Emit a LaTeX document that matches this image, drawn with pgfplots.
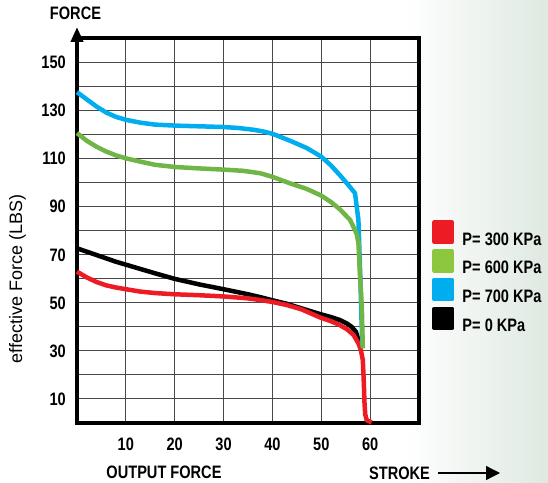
\documentclass[border=0pt]{standalone}
\usepackage{fontspec}
\setmainfont{Liberation Sans}
\newfontfamily\cond{Liberation Sans}[FakeStretch=0.81]
\usepackage{pgfplots}
\pgfplotsset{compat=1.18}
\usetikzlibrary{arrows.meta}
\newcommand\lab{\cond\bfseries\fontsize{18bp}{18bp}\selectfont}
\definecolor{cred}{RGB}{237,28,36}
\definecolor{cgreen}{RGB}{112,182,70}
\definecolor{cgreenL}{RGB}{141,198,63}
\definecolor{cblue}{RGB}{0,174,239}
\definecolor{bgc}{RGB}{222,233,225}
\tikzset{mylab/.style={font=\lab, inner sep=0pt, text height=12.9bp, text depth=0pt}}
\begin{document}
\begin{tikzpicture}
\useasboundingbox (0,0) rectangle (548bp,483bp);
\shade[left color=white, right color=bgc] (405bp,0bp) rectangle (548bp,483bp);
\begin{axis}[
  at={(77bp,60bp)}, anchor=south west, scale only axis,
  width=342bp, height=385bp,
  xmin=0, xmax=70, ymin=0, ymax=160,
  xtick={10,20,...,60}, ytick={10,30,...,150},
  minor ytick={20,40,...,140},
  grid=both,
  major grid style={line width=1.1bp, black!72},
  minor grid style={line width=1.1bp, black!72},
  major tick length=0pt, minor tick length=0pt,
  axis line style={line width=4bp},
  tick label style={font=\lab, /pgf/number format/assume math mode=true, inner sep=0pt, text height=12.9bp, text depth=0pt},
  xticklabel style={anchor=north, yshift=-14bp},
  yticklabel style={anchor=east, xshift=-11bp},
  clip=false,
  legend style={at={(rel axis cs:1.038,0.526)}, anchor=north west, draw=none, fill=none,
    inner sep=0pt, outer sep=0pt, row sep=4bp, column sep=0pt,
    nodes={inner sep=0pt, text height=12.9bp, text depth=0pt, font=\lab}},
  legend cell align=left,
  legend image code/.code={\fill[#1] (0bp,-3bp) rectangle (18bp,16bp); \path (26bp,0bp);},
  every axis plot/.append style={line width=4.5bp, line join=round, line cap=butt},
]
% P = 0 KPa
\addplot[black, forget plot] coordinates {
(0,72.6) (2,71.2) (4,69.8) (6,68.4) (8,67) (10,65.8) (13,64) (16,62.2) (20,59.9) (25,57.6)
(30,55.6) (35,53.5) (37.5,52.3) (40,51) (43,49.5) (46,47.6) (49.7,45.3) (52,44) (53.8,42.8)
(55.2,41.4) (56.2,40) (57.1,37.9) (57.6,34.5) (58,32)};
% P = 300 KPa
\addplot[cred, forget plot] coordinates {
(0,62.9) (2,60.5) (4,58.6) (6,57.2) (8,56.3) (10,55.6) (13,54.6) (16,54) (20,53.5) (25,53.1)
(30,52.6) (35,51.8) (37.5,51.1) (40,50.3) (43,49) (46,47.2) (49.7,43.9) (52,42.3) (53.8,40.7)
(55.3,38.9) (56.6,36.6) (57.6,33.1) (58.1,30.3) (58.5,26.2) (58.7,17) (58.85,8) (59,3.5) (59.3,1.2) (60.3,0.2)};
% P = 700 KPa
\addplot[cblue, forget plot] coordinates {
(0,137.5) (2,134.5) (4,131.5) (6,129) (8,127.2) (10,126) (13,124.8) (16,124) (20,123.6) (25,123.3)
(30,123) (33,122.6) (36,121.9) (38,121.2) (40,120.2) (42,118.6) (43.6,117.3) (47,114.3) (50,110.7)
(52,107) (53.8,103) (55.5,99) (56.9,95.5) (57.6,84.4) (57.8,72) (58,60) (58.2,45) (58.4,32)};
% P = 600 KPa
\addplot[cgreen, forget plot] coordinates {
(0,120.5) (2,117.3) (4,114.8) (6,112.8) (8,111.2) (10,110) (13,108.6) (16,107.3) (20,106.4) (25,105.8)
(30,105.3) (34,104.8) (37.5,103.8) (40,102.3) (43.6,99.6) (47,97.3) (50,94.5) (52,91.8)
(53.8,88.8) (55.9,84.4) (57.2,78.8) (57.6,75) (57.9,62.2) (58.3,48.3) (58.5,31)};
\addlegendimage{cred}
\addlegendentry{P= 300 KPa}
\addlegendimage{cgreenL}
\addlegendentry{P= 600 KPa}
\addlegendimage{cblue}
\addlegendentry{P= 700 KPa}
\addlegendimage{black}
\addlegendentry{P= 0 KPa}
\end{axis}
\draw[line width=4bp, -{Triangle[length=15bp,width=12bp]}] (77bp,430bp) -- (77bp,456bp);
\node[mylab] at (75.5bp,470bp) {FORCE};
\node[font=\fontsize{18bp}{18bp}\selectfont, rotate=90, inner sep=0pt] at (17.5bp,204bp) {effective Force (LBS)};
\node[mylab] at (164bp,11.3bp) {OUTPUT FORCE};
\node[mylab] at (399.5bp,10.3bp) {STROKE};
\draw[line width=1.3bp, -{Triangle[length=14bp,width=14bp]}] (438bp,10bp) -- (500bp,10bp);
\end{tikzpicture}
\end{document}
